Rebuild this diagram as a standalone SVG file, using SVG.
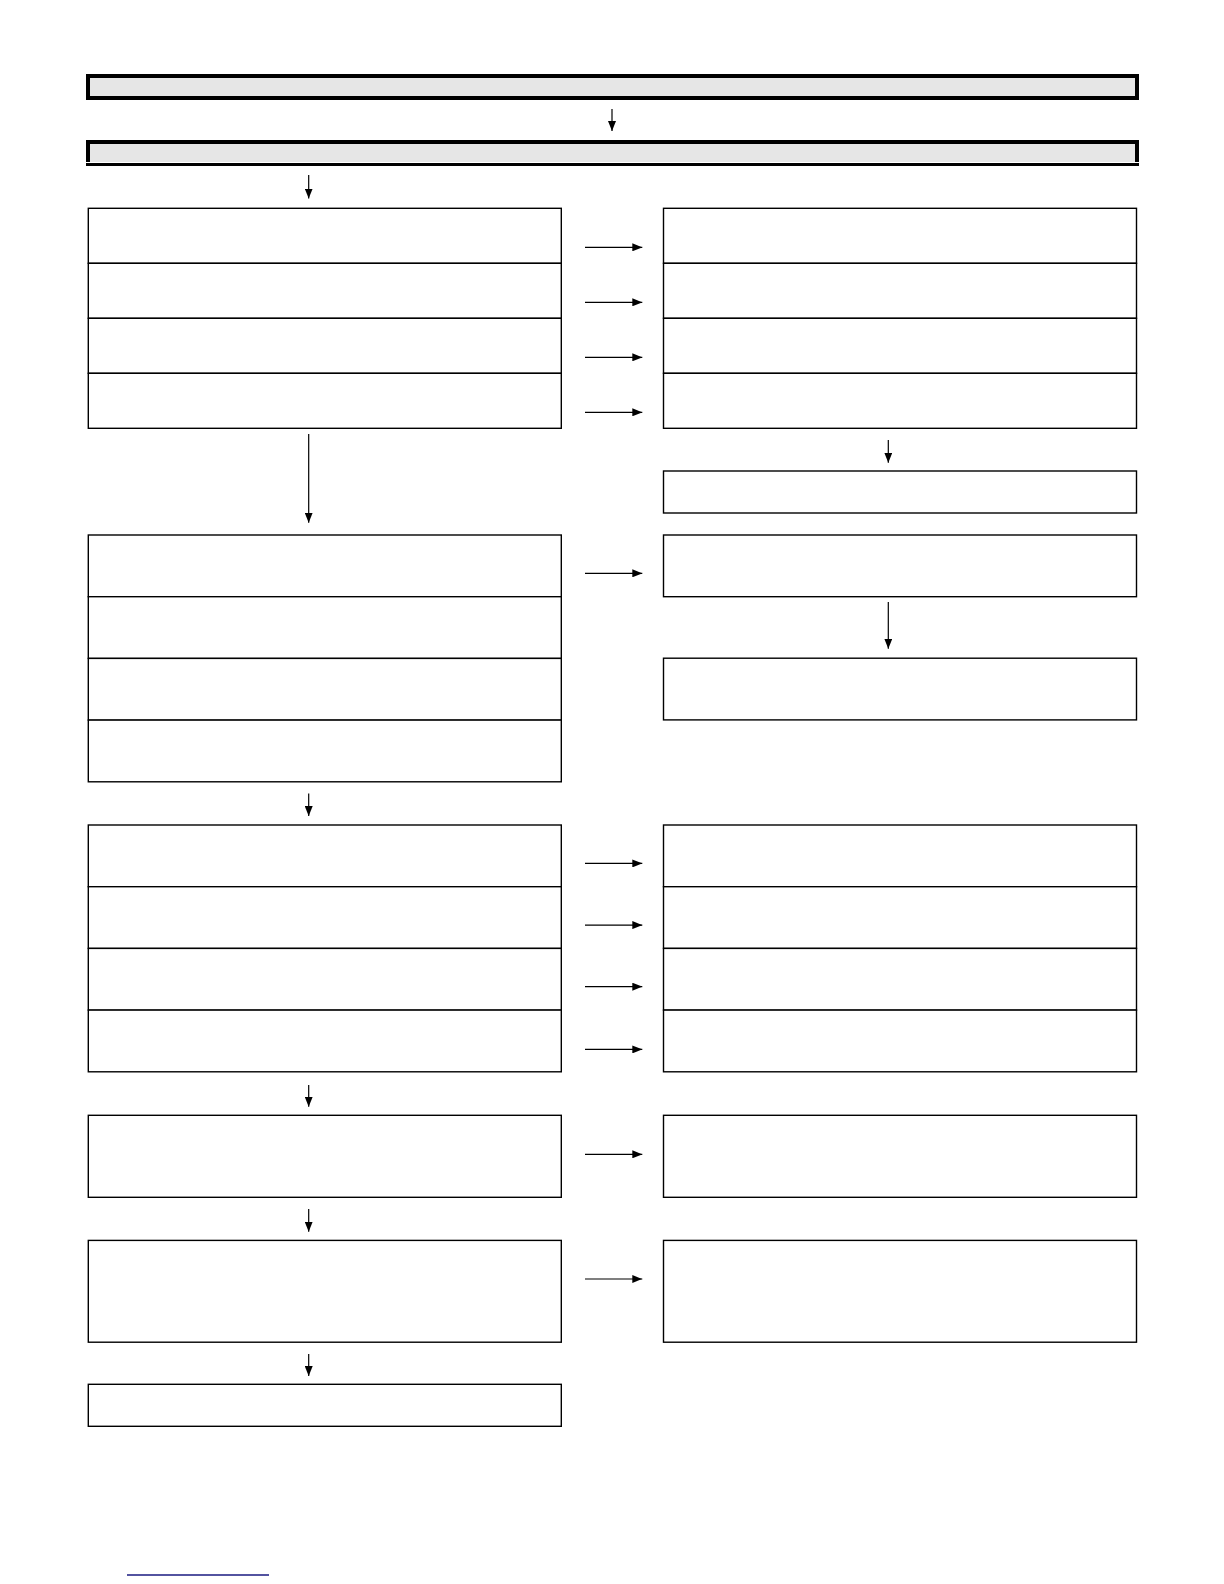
<svg xmlns="http://www.w3.org/2000/svg" width="1224" height="1584" viewBox="0 0 1224 1584">
<style>
.box{fill:#fff;stroke:#000;stroke-width:1.4}
.bar{fill:#e6e6e6}
.blk{fill:none;stroke:#000;stroke-width:4}
.con{fill:none;stroke:#000;stroke-width:1.2;marker-end:url(#ah)}
</style>
<defs>
<marker id="ah" markerUnits="userSpaceOnUse" markerWidth="10" markerHeight="8" refX="10" refY="4" orient="auto">
<path d="M0,0 L10,4 L0,8 z" fill="#000"/>
</marker>
</defs>
<rect width="1224" height="1584" fill="#fff"/>
<g id="header1">
<rect x="88" y="76" width="1049" height="22" class="bar"/>
<rect x="88" y="76" width="1049" height="22" class="blk"/>
</g>
<g id="header2">
<rect x="88" y="142" width="1049" height="20" class="bar"/>
<path d="M88,162 L88,142 L1137,142 L1137,162" class="blk"/>
<rect x="86" y="163" width="1053" height="3" fill="#000"/>
</g>
<g id="L1a"><rect x="88.3" y="208.3" width="473" height="55" class="box"/></g>
<g id="L1b"><rect x="88.3" y="263.3" width="473" height="55" class="box"/></g>
<g id="L1c"><rect x="88.3" y="318.3" width="473" height="55" class="box"/></g>
<g id="L1d"><rect x="88.3" y="373.3" width="473" height="55" class="box"/></g>
<g id="R1a"><rect x="663.5" y="208.3" width="473" height="55" class="box"/></g>
<g id="R1b"><rect x="663.5" y="263.3" width="473" height="55" class="box"/></g>
<g id="R1c"><rect x="663.5" y="318.3" width="473" height="55" class="box"/></g>
<g id="R1d"><rect x="663.5" y="373.3" width="473" height="55" class="box"/></g>
<g id="R1e"><rect x="663.5" y="471" width="473" height="42" class="box"/></g>
<g id="L2a"><rect x="88.3" y="535" width="473" height="61.7" class="box"/></g>
<g id="L2b"><rect x="88.3" y="596.7" width="473" height="61.7" class="box"/></g>
<g id="L2c"><rect x="88.3" y="658.4" width="473" height="61.7" class="box"/></g>
<g id="L2d"><rect x="88.3" y="720.1" width="473" height="61.7" class="box"/></g>
<g id="R2a"><rect x="663.5" y="535" width="473" height="61.7" class="box"/></g>
<g id="R2b"><rect x="663.5" y="658.2" width="473" height="61.7" class="box"/></g>
<g id="L3a"><rect x="88.3" y="825" width="473" height="61.7" class="box"/></g>
<g id="L3b"><rect x="88.3" y="886.7" width="473" height="61.7" class="box"/></g>
<g id="L3c"><rect x="88.3" y="948.4" width="473" height="61.7" class="box"/></g>
<g id="L3d"><rect x="88.3" y="1010.1" width="473" height="61.7" class="box"/></g>
<g id="R3a"><rect x="663.5" y="825" width="473" height="61.7" class="box"/></g>
<g id="R3b"><rect x="663.5" y="886.7" width="473" height="61.7" class="box"/></g>
<g id="R3c"><rect x="663.5" y="948.4" width="473" height="61.7" class="box"/></g>
<g id="R3d"><rect x="663.5" y="1010.1" width="473" height="61.7" class="box"/></g>
<g id="L4"><rect x="88.3" y="1115.3" width="473" height="82" class="box"/></g>
<g id="R4"><rect x="663.5" y="1115.3" width="473" height="82" class="box"/></g>
<g id="L5"><rect x="88.3" y="1240.4" width="473" height="101.8" class="box"/></g>
<g id="R5"><rect x="663.5" y="1240.4" width="473" height="101.8" class="box"/></g>
<g id="L6"><rect x="88.3" y="1384.3" width="473" height="42" class="box"/></g>
<g id="connectors">
<line x1="612" y1="109" x2="612" y2="131" class="con"/>
<line x1="308.7" y1="175" x2="308.7" y2="198.5" class="con"/>
<line x1="585" y1="247.3" x2="642.3" y2="247.3" class="con"/>
<line x1="585" y1="302.3" x2="642.3" y2="302.3" class="con"/>
<line x1="585" y1="357.3" x2="642.3" y2="357.3" class="con"/>
<line x1="585" y1="412.3" x2="642.3" y2="412.3" class="con"/>
<line x1="308.7" y1="434" x2="308.7" y2="522.7" class="con"/>
<line x1="888.3" y1="440" x2="888.3" y2="462.7" class="con"/>
<line x1="585" y1="573.3" x2="642.3" y2="573.3" class="con"/>
<line x1="888.3" y1="602" x2="888.3" y2="648.7" class="con"/>
<line x1="308.7" y1="793.6" x2="308.7" y2="816" class="con"/>
<line x1="585" y1="863.4" x2="642.3" y2="863.4" class="con"/>
<line x1="585" y1="925.1" x2="642.3" y2="925.1" class="con"/>
<line x1="585" y1="986.7" x2="642.3" y2="986.7" class="con"/>
<line x1="585" y1="1049.4" x2="642.3" y2="1049.4" class="con"/>
<line x1="308.7" y1="1085" x2="308.7" y2="1106.8" class="con"/>
<line x1="585" y1="1154.3" x2="642.3" y2="1154.3" class="con"/>
<line x1="308.7" y1="1209" x2="308.7" y2="1231.7" class="con"/>
<line x1="585" y1="1279" x2="642.3" y2="1279" class="con"/>
<line x1="308.7" y1="1354" x2="308.7" y2="1376" class="con"/>
</g>
<line x1="127" y1="1575" x2="269" y2="1575" stroke="#1a1a80" stroke-width="1.6"/>
</svg>
